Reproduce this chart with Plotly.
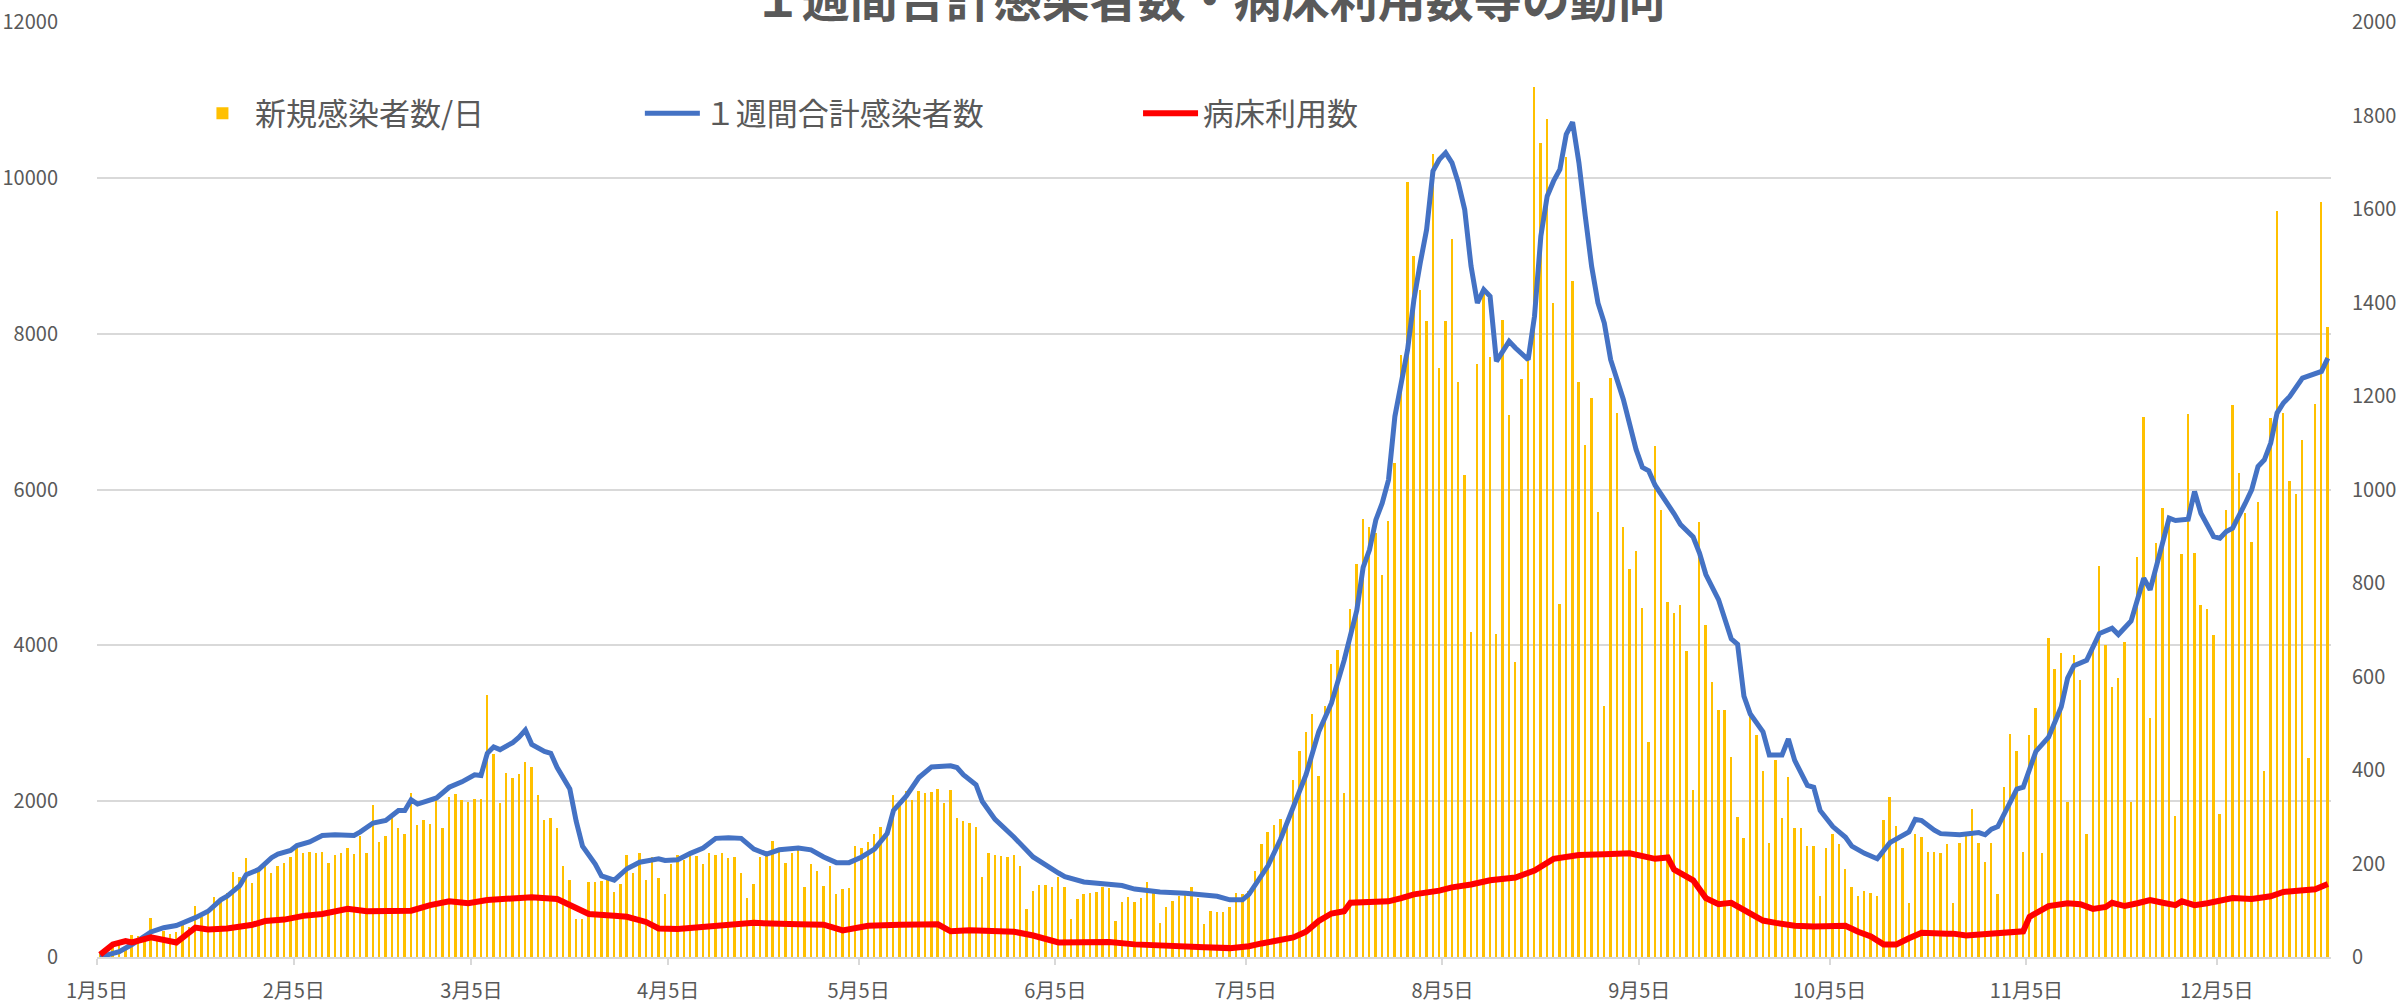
import pandas as pd
import plotly.graph_objects as go

# ---------------- data ----------------
start_date = "2022-01-05"

# 新規感染者数/日 (one value per day from 1月5日, rows = weeks)
daily_new = [
    50, 80, 130, 160, 120, 280, 270,
    220, 495, 260, 330, 300, 320, 410,
    380, 650, 510, 560, 770, 710, 820,
    1092, 1032, 1275, 954, 1147, 1202, 1078,
    1170, 1202, 1284, 1413, 1339, 1353, 1339,
    1353, 1202, 1307, 1339, 1399, 1321, 1550,
    1339, 1950, 1477, 1550, 1798, 1661, 1583,
    2110, 1688, 1752, 1706, 2055, 1651, 2055,
    2087, 2009, 1995, 2028, 2028, 3358, 2601,
    1972, 2362, 2303, 2349, 2500, 2440, 2073,
    1752, 1789, 1651, 1170, 986, 482, 482,
    963, 963, 972, 986, 835, 931, 1307,
    1078, 1339, 986, 1284, 1009, 803, 1193,
    1307, 1239, 1353, 1294, 1193, 1339, 1307,
    1339, 1275, 1284, 1078, 757, 940, 1284,
    1294, 1491, 1399, 1202, 1330, 1376, 894,
    1193, 1101, 917, 1170, 803, 872, 881,
    1422, 1399, 1482, 1583, 1674, 1651, 2073,
    1995, 2133, 2018, 2133, 2110, 2119, 2156,
    1982, 2142, 1780, 1743, 1720, 1674, 1032,
    1330, 1307, 1294, 1284, 1307, 1170, 619,
    849, 927, 927, 894, 1032, 894, 482,
    743, 812, 826, 835, 894, 881, 459,
    711, 766, 711, 757, 963, 835, 436,
    642, 720, 789, 803, 894, 757, 422,
    587, 573, 573, 642, 826, 803, 849,
    1110, 1445, 1606, 1697, 1766, 1743, 2271,
    2638, 2890, 3119, 2317, 3220, 3761, 3945,
    2110, 4472, 5046, 5619, 5525, 5439, 4899,
    5602, 6338, 7730, 9949, 8994, 8565, 8167,
    10300, 7559, 8158, 9221, 7379, 6188, 4174,
    7615, 8565, 7700, 4150, 8180, 6959, 3784,
    7418, 7666, 11169, 10450, 10749, 8394, 4532,
    10270, 8681, 7375, 6574, 7173, 5717, 3220,
    7430, 6981, 5516, 4977, 5206, 4482, 2761,
    6559, 5734, 4550, 4413, 4518, 3922, 2142,
    5582, 4266, 3532, 3165, 3165, 2569, 1798,
    1523, 3096, 2844, 2385, 1468, 2523, 1789,
    2316, 1660, 1660, 1431, 1422, 789, 1399,
    1583, 1445, 1124, 894, 780, 850, 826,
    780, 1752, 2055, 1683, 1399, 688, 1583,
    1537, 1353, 1353, 1330, 1445, 688, 1468,
    1583, 1904, 1468, 1216, 1468, 803, 2179,
    2867, 2638, 1353, 2844, 3202, 1330, 4092,
    3693, 3899, 1995, 3876, 3555, 1583, 3991,
    5023, 4000, 3463, 3578, 4046, 1995, 5138,
    6926, 3073, 5311, 5760, 5610, 1812, 5169,
    6968, 5182, 4518, 4472, 4128, 1835, 5738,
    7088, 6210, 5696, 5332, 5846, 2385, 6916,
    9572, 6981, 6103, 5944, 6630, 2550, 7101,
    9687, 8086,
]

# １週間合計感染者数 (read at these day numbers counted from 1月5日)
weekly_days = [
    0, 3, 5, 8, 10, 12, 15, 17, 19, 20, 22, 23, 25, 27, 28, 30, 31, 33, 35, 37,
    40, 41, 43, 45, 47, 48, 49, 50, 53, 55, 57, 59, 60, 61, 62, 63, 65, 66, 67, 68,
    70, 71, 72, 74, 75, 76, 78, 79, 81, 83, 85, 88, 89, 91, 93, 95, 97, 99, 101, 103,
    105, 107, 110, 112, 114, 116, 118, 120, 122, 124, 125, 127, 129, 131, 134, 135, 136, 138, 139, 141,
    144, 147, 151, 152, 155, 159, 161, 163, 167, 171, 174, 176, 178, 180, 181, 182, 184, 186, 188, 190,
    192, 194, 196, 198, 199, 200, 201, 202, 203, 204, 206, 207, 208, 209, 210, 211, 212, 213, 214, 215,
    216, 217, 218, 219, 220, 222, 223, 225, 226, 227, 228, 229, 230, 231, 232, 233, 234, 235, 236, 237,
    238, 240, 241, 242, 243, 244, 245, 247, 248, 249, 251, 252, 253, 255, 256, 257, 258, 259, 260, 262,
    263, 265, 266, 267, 269, 270, 271, 273, 275, 276, 278, 280, 282, 285, 286, 287, 289, 290, 293, 296,
    297, 298, 299, 300, 302, 303, 305, 307, 309, 310, 311, 313, 315, 317, 318, 320, 321, 322, 323, 325,
    326, 327, 329, 330, 331, 333, 334, 335, 336, 338, 339, 340, 341, 342, 343, 344, 345, 347, 350, 351,
]
weekly_vals = [
    0, 69, 160, 321, 376, 404, 505, 587, 734, 780, 917, 1055, 1124, 1275, 1321, 1367, 1431, 1477, 1560, 1569,
    1560, 1606, 1720, 1752, 1881, 1881, 2018, 1963, 2041, 2179, 2248, 2339, 2330, 2615, 2697, 2661, 2752, 2821, 2913, 2729,
    2638, 2615, 2431, 2156, 1743, 1422, 1193, 1041, 986, 1133, 1216, 1261, 1239, 1248, 1330, 1399, 1523, 1532, 1523, 1385,
    1321, 1376, 1399, 1376, 1284, 1211, 1211, 1284, 1385, 1583, 1881, 2064, 2303, 2440, 2454, 2431, 2339, 2211, 1995, 1766,
    1537, 1284, 1078, 1032, 963, 927, 917, 872, 835, 817, 803, 780, 734, 734, 803, 917, 1170, 1514, 1927, 2339,
    2890, 3257, 3807, 4450, 5000, 5225, 5610, 5824, 6124, 6938, 7794, 8437, 8908, 9336, 10086, 10236, 10321, 10193, 9936, 9593,
    8865, 8394, 8565, 8480, 7645, 7901, 7816, 7666, 8223, 9251, 9764, 9957, 10107, 10557, 10715, 10193, 9507, 8865, 8394, 8137,
    7666, 7156, 6835, 6514, 6284, 6239, 6055, 5826, 5688, 5550, 5390, 5183, 4908, 4587, 4312, 4083, 4014, 3349, 3119, 2890,
    2592, 2592, 2798, 2523, 2202, 2179, 1881, 1674, 1537, 1422, 1330, 1261, 1468, 1606, 1766, 1752, 1628, 1583, 1569, 1596,
    1569, 1642, 1674, 1835, 2156, 2179, 2638, 2821, 3211, 3578, 3739, 3807, 4151, 4220, 4138, 4312, 4564, 4862, 4711, 5353,
    5632, 5602, 5620, 5974, 5696, 5396, 5375, 5460, 5503, 5824, 5996, 6296, 6381, 6595, 6981, 7110, 7195, 7430, 7516, 7687,
]

# 病床利用数 (right axis)
bed_days = [
    0, 2, 4, 5, 8, 10, 12, 15, 17, 20, 24, 26, 29, 32, 35, 39, 42, 49, 52, 55,
    58, 61, 65, 68, 72, 74, 77, 81, 83, 86, 88, 91, 95, 99, 103, 110, 114, 117, 121, 126,
    132, 134, 137, 144, 147, 151, 155, 159, 163, 168, 174, 178, 181, 183, 185, 188, 190, 192, 194, 196,
    197, 200, 203, 205, 207, 211, 213, 216, 219, 223, 226, 229, 233, 237, 241, 245, 247, 248, 251, 253,
    255, 257, 260, 262, 264, 267, 270, 272, 275, 277, 279, 281, 283, 285, 287, 291, 292, 294, 297, 300,
    303, 304, 307, 310, 312, 314, 316, 317, 319, 321, 323, 325, 327, 328, 330, 332, 334, 336, 339, 342,
    344, 347, 349, 351,
]
bed_vals = [
    5, 27, 34, 31, 42, 38, 31, 63, 59, 61, 69, 77, 80, 88, 92, 103, 98, 99, 111, 119,
    115, 122, 126, 128, 124, 111, 92, 88, 86, 75, 61, 60, 65, 67, 73, 70, 69, 57, 67, 69,
    70, 55, 57, 54, 46, 31, 31, 32, 27, 23, 21, 19, 23, 29, 34, 42, 54, 77, 93, 98,
    116, 119, 119, 126, 134, 142, 149, 155, 164, 170, 185, 210, 218, 220, 222, 210, 213, 187, 164, 126,
    113, 116, 92, 78, 73, 67, 65, 65, 67, 54, 44, 27, 27, 40, 52, 50, 50, 46, 49, 54,
    55, 86, 109, 115, 113, 103, 107, 116, 109, 115, 122, 116, 111, 119, 111, 115, 122, 126, 124, 130,
    139, 142, 145, 156,
]

tick_dates = ["2022-01-05", "2022-02-05", "2022-03-05", "2022-04-05", "2022-05-05", "2022-06-05",
              "2022-07-05", "2022-08-05", "2022-09-05", "2022-10-05", "2022-11-05", "2022-12-05"]
tick_labels = ["1月5日", "2月5日", "3月5日", "4月5日", "5月5日", "6月5日",
               "7月5日", "8月5日", "9月5日", "10月5日", "11月5日", "12月5日"]

title_text = "１週間合計感染者数・病床利用数等の動向"
name_daily = "新規感染者数/日"
name_weekly = "１週間合計感染者数"
name_bed = "病床利用数"

# ---------------- figure ----------------
start = pd.Timestamp(start_date)
half = pd.Timedelta(hours=12)
bar_x = [start + pd.Timedelta(days=i) + half for i in range(len(daily_new))]
weekly_x = [start + pd.Timedelta(days=d) + half for d in weekly_days]
bed_x = [start + pd.Timedelta(days=d) + half for d in bed_days]
x_end = start + pd.Timedelta(days=len(daily_new))

FONT = "Noto Sans CJK JP, Noto Sans, sans-serif"
GREY = "#595959"
GRID = "#d9d9d9"

fig = go.Figure()
fig.add_trace(go.Bar(
    x=bar_x, y=daily_new, name=name_daily,
    marker=dict(color="#FFC000", line=dict(width=0)),
    width=0.3 * 86400000, legend="legend", showlegend=True,
))
fig.add_trace(go.Scatter(
    x=weekly_x, y=weekly_vals, name=name_weekly, mode="lines",
    line=dict(color="#4472C4", width=5), legend="legend2", showlegend=True,
))
fig.add_trace(go.Scatter(
    x=bed_x, y=bed_vals, name=name_bed, mode="lines", yaxis="y2",
    line=dict(color="#FF0000", width=6), legend="legend3", showlegend=True,
))

legend_common = dict(
    orientation="h", yanchor="middle", y=0.902, xanchor="left",
    font=dict(size=31, color=GREY, family=FONT),
    bgcolor="rgba(0,0,0,0)", itemwidth=55,
)

fig.update_layout(
    width=2405, height=1004,
    margin=dict(l=97, r=74, t=22, b=47),
    paper_bgcolor="white", plot_bgcolor="white",
    font=dict(family=FONT, color=GREY),
    showlegend=True,
    bargap=0,
    title=dict(
        text=title_text, x=0.503, xanchor="center", xref="container",
        y=1.0, yanchor="middle", yref="container",
        font=dict(size=48, color=GREY, family=FONT, weight="bold"),
        automargin=False,
    ),
    xaxis=dict(
        type="date", range=[start, x_end], automargin=False,
        tickvals=tick_dates, ticktext=tick_labels,
        showgrid=False, zeroline=False,
        showline=True, linecolor=GRID, linewidth=2,
        ticks="outside", ticklen=6, tickwidth=2, tickcolor=GRID,
        tickfont=dict(size=20, color=GREY, family=FONT),
        ticklabelstandoff=9,
    ),
    yaxis=dict(
        range=[0, 12000], dtick=2000, tick0=0, tickformat="d", automargin=False,
        showgrid=True, gridcolor=GRID, gridwidth=2,
        zeroline=False, showline=False, ticks="",
        tickfont=dict(size=20, color=GREY, family=FONT),
        ticklabelstandoff=38,
    ),
    yaxis2=dict(
        range=[0, 2000], dtick=200, tick0=0, tickformat="d", automargin=False,
        overlaying="y", side="right",
        showgrid=False, zeroline=False, showline=False, ticks="",
        tickfont=dict(size=20, color=GREY, family=FONT),
        ticklabelstandoff=20,
    ),
    legend=dict(legend_common, x=0.0416),
    legend2=dict(legend_common, x=0.243),
    legend3=dict(legend_common, x=0.466),
)

fig.write_html(
    "out.html",
    config={"displayModeBar": False},
    post_script="document.body.style.margin='0';document.body.style.overflow='hidden';",
)
